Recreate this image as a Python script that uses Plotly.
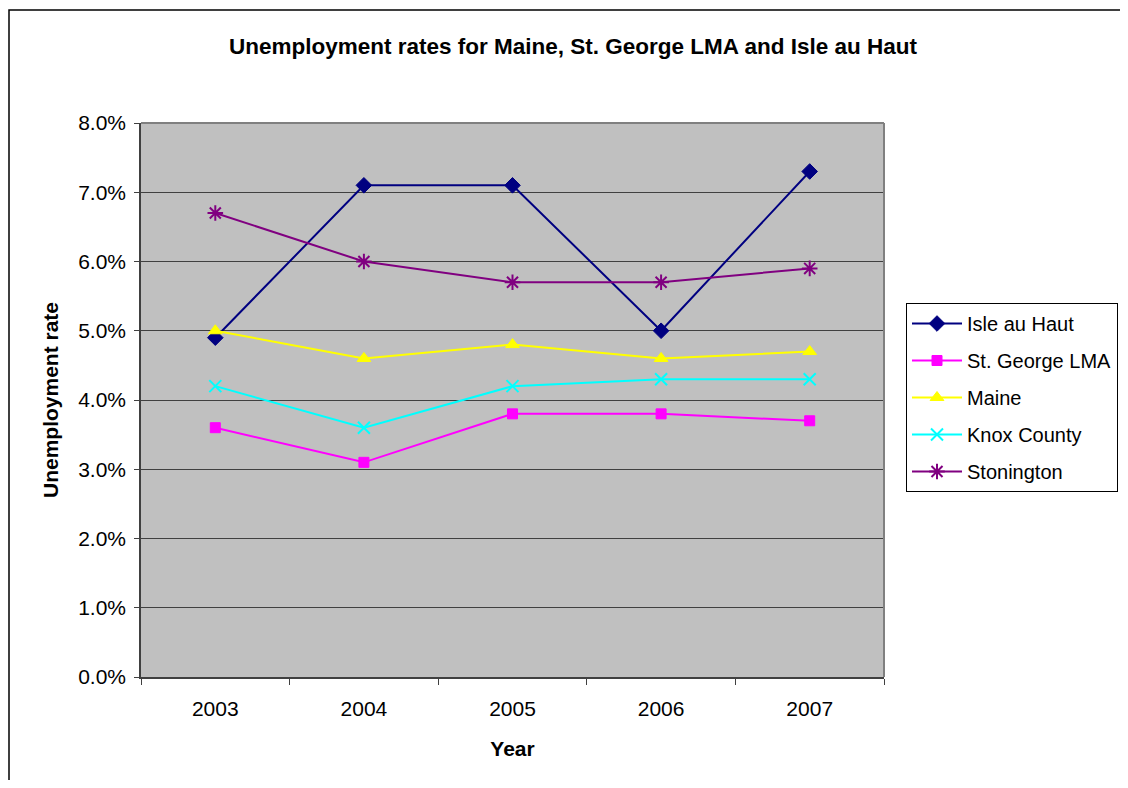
import plotly.graph_objects as go

years = [2003, 2004, 2005, 2006, 2007]
year_labels = ["2003", "2004", "2005", "2006", "2007"]
isle_au_haut = [4.9, 7.1, 7.1, 5.0, 7.3]
st_george = [3.6, 3.1, 3.8, 3.8, 3.7]
maine = [5.0, 4.6, 4.8, 4.6, 4.7]
knox_county = [4.2, 3.6, 4.2, 4.3, 4.3]
stonington = [6.7, 6.0, 5.7, 5.7, 5.9]

series = [
    ("Isle au Haut", isle_au_haut, "#000080", "diamond", 12, 1),
    ("St. George LMA", st_george, "#FF00FF", "square", 10, 1),
    ("Maine", maine, "#FFFF00", "triangle-up", 12, 1),
    ("Knox County", knox_county, "#00FFFF", "x-thin-open", 12, 2),
    ("Stonington", stonington, "#800080", "asterisk-open", 13, 2),
]

fig = go.Figure()
for name, vals, color, sym, size, mlw in series:
    fig.add_trace(go.Scatter(
        x=years, y=[v / 100 for v in vals], name=name, legendgroup=name,
        mode="lines+markers",
        line=dict(color=color, width=2),
        marker=dict(symbol=sym, size=size, color=color, line=dict(color=color, width=mlw)),
    ))

font_family = "Liberation Sans, Arial, sans-serif"

# page has an 8px body margin; figure is 1112x772 placed at (8, 8) so nothing overflows
W, H = 1112, 772
fig.update_layout(
    width=W, height=H,
    margin=dict(l=133, r=236, t=115, b=103, autoexpand=False),
    paper_bgcolor="white",
    plot_bgcolor="#C0C0C0",
    font=dict(family=font_family, size=21, color="black"),
    title=dict(
        text="<b>Unemployment rates for Maine, St. George LMA and Isle au Haut</b>",
        x=565 / W, xanchor="center", y=1 - 38 / H, yanchor="middle",
        font=dict(size=22.5, family=font_family),
    ),
    xaxis=dict(
        range=[2002.5, 2007.5],
        tickvals=years, ticktext=year_labels,
        ticks="", showgrid=False,
        showline=True, linecolor="#404040", linewidth=1.5,
        zeroline=False,
        minor=dict(tickvals=[2002.5, 2003.5, 2004.5, 2005.5, 2006.5, 2007.5],
                   ticks="outside", ticklen=6, tickcolor="#404040", showgrid=False),
        tickfont=dict(size=21),
        ticklabelstandoff=12,
        title=dict(text="<b>Year</b>", font=dict(size=21), standoff=22),
        fixedrange=True,
    ),
    yaxis=dict(
        range=[0, 0.08],
        tickvals=[i / 100 for i in range(0, 9)],
        ticktext=[f"{i}.0%" for i in range(0, 9)],
        ticks="outside", ticklen=5, tickcolor="#404040",
        showgrid=True, gridcolor="#404040", gridwidth=1.2,
        showline=True, linecolor="#404040", linewidth=1.5,
        zeroline=False,
        tickfont=dict(size=21),
        ticklabelstandoff=4,
        title=dict(text="<b>Unemployment rate</b>", font=dict(size=21), standoff=14),
        fixedrange=True,
    ),
    legend=dict(
        xref="container", yref="container",
        x=(906 - 8) / W, xanchor="left",
        y=1 - (303 - 8) / H, yanchor="top",
        bgcolor="white", bordercolor="black", borderwidth=1,
        font=dict(size=20),
        tracegroupgap=8,
        traceorder="grouped",
        itemwidth=50,
    ),
    showlegend=True,
)

# plot area top and right borders (gray)
fig.add_shape(type="line", xref="paper", yref="paper", x0=0, x1=1, y0=1, y1=1,
              line=dict(color="#808080", width=2))
fig.add_shape(type="line", xref="paper", yref="paper", x0=1, x1=1, y0=0, y1=1,
              line=dict(color="#808080", width=2))

# outer chart border (cropped on right and bottom)
px_x = lambda px: (px - 141) / 743
px_y = lambda py: (677 - py) / 554
fig.add_shape(type="rect", xref="paper", yref="paper",
              x0=px_x(9), x1=px_x(1140), y0=px_y(800), y1=px_y(10),
              line=dict(color="black", width=1.5), layer="below")

fig.write_html("out.html")
